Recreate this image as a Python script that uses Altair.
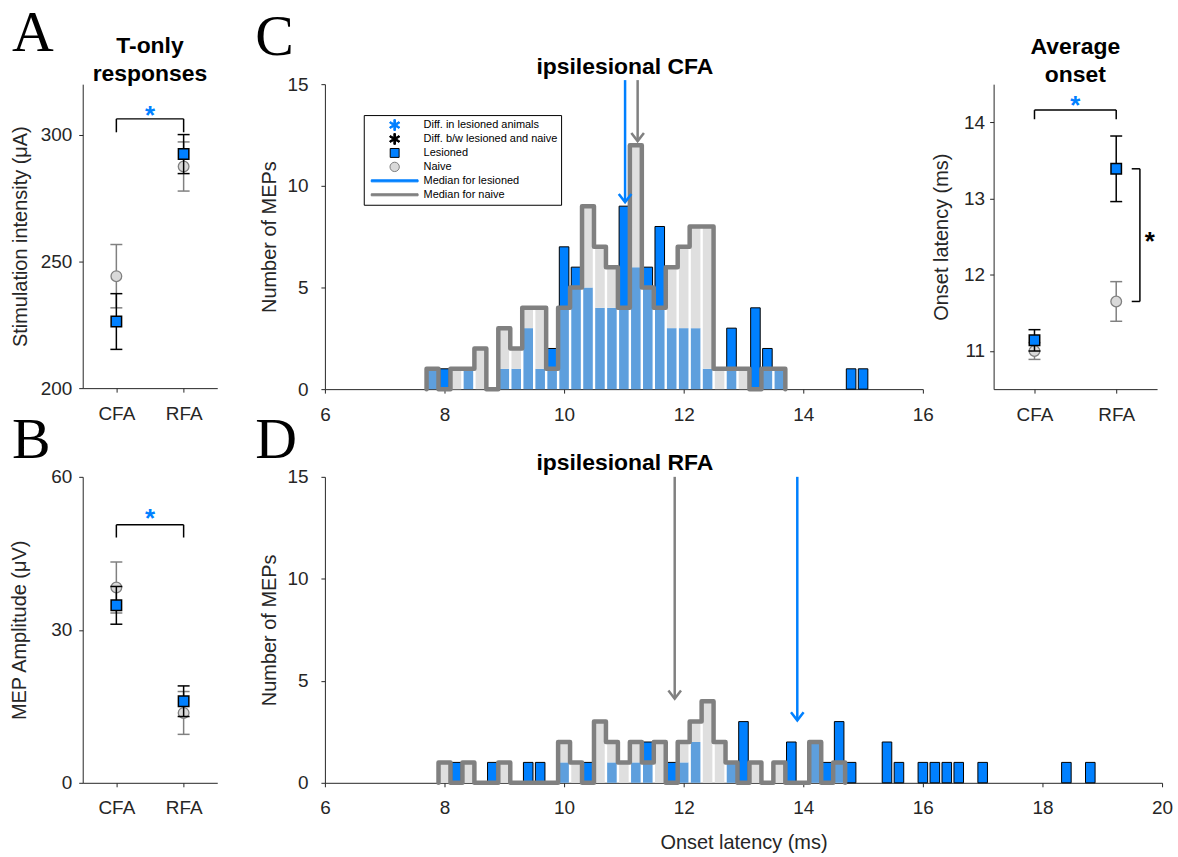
import math
import altair as alt
import pandas as pd

FONT = "Liberation Sans"
SERIF = "Liberation Serif"
BLUE = "#0080FF"
OVERLAP = "#5E9FDD"
LIGHT = "#DFDFDF"
GRAY = "#808080"
NAIVE_FILL = "#D9D9D9"
INK = "#262626"

sites = ["CFA", "RFA"]

# A: stimulation intensity of T-only responses (mean and error)
stim_les = [226.3, 292.4]
stim_les_err = [11.0, 7.7]
stim_nai = [244.2, 287.5]
stim_nai_err = [12.5, 9.7]

# B: MEP amplitude
amp_les = [34.8, 16.0]
amp_les_err = [3.7, 3.0]
amp_nai = [38.3, 13.7]
amp_nai_err = [5.0, 4.2]

# Average onset latency
onset_les = [11.14, 13.39]
onset_les_err = [0.14, 0.43]
onset_nai = [11.0, 11.65]
onset_nai_err = [0.11, 0.26]

# significance brackets: segments (x, x2, y, y2) and stars (x, y, colour)
stim_bracket = [(1, 2, 306.3, 306.3), (1, 1, 306.3, 301.0), (2, 2, 306.3, 301.0)]
stim_stars = [(1.5, 310.2, BLUE)]
amp_bracket = [(1, 2, 50.6, 50.6), (1, 1, 50.6, 48.1), (2, 2, 50.6, 48.1)]
amp_stars = [(1.5, 53.0, BLUE)]
onset_bracket = [(1, 2, 14.16, 14.16), (1, 1, 14.16, 14.04), (2, 2, 14.16, 14.04),
                 (2.29, 2.29, 13.39, 11.65), (2.19, 2.29, 13.39, 13.39), (2.19, 2.29, 11.65, 11.65)]
onset_stars = [(1.5, 14.3, BLUE), (2.41, 12.52, "black")]

# C: onset latency histogram, ipsilesional CFA (bin centres, counts)
cfa_bins = [7.8, 8.0, 8.2, 8.4, 8.6, 8.8, 9.0, 9.2, 9.4, 9.6, 9.8, 10.0, 10.2, 10.4, 10.6,
            10.8, 11.0, 11.2, 11.4, 11.6, 11.8, 12.0, 12.2, 12.4, 12.6, 12.8, 13.0, 13.2,
            13.4, 13.6, 13.8, 14.0, 14.2, 14.4, 14.6, 14.8, 15.0]
cfa_les = [1, 1, 0, 1, 0, 0, 1, 1, 3, 1, 2, 7, 6, 5, 4, 4, 9, 6, 6, 8, 3, 3, 3, 1, 0, 3, 0, 4,
           2, 1, 0, 0, 0, 0, 0, 1, 1]
cfa_nai = [1, 0, 1, 1, 2, 0, 3, 2, 4, 4, 1, 4, 5, 9, 7, 6, 4, 12, 5, 4, 6, 7, 8, 8, 1, 1, 1, 0,
           1, 1, 0, 0, 0, 0, 0, 0, 0]
cfa_median = {"les": 11.02, "nai": 11.23}
cfa_arrow_tip = {"les": 9.2, "nai": 12.2}
cfa_arrow_top = 15.2

# D: onset latency histogram, ipsilesional RFA
rfa_bins = [8.0, 8.2, 8.4, 8.6, 8.8, 9.0, 9.2, 9.4, 9.6, 9.8, 10.0, 10.2, 10.4, 10.6, 10.8,
            11.0, 11.2, 11.4, 11.6, 11.8, 12.0, 12.2, 12.4, 12.6, 12.8, 13.0, 13.2, 13.4,
            13.6, 13.8, 14.0, 14.2, 14.4, 14.6, 14.8, 15.0, 15.2, 15.4, 15.6, 15.8, 16.0,
            16.2, 16.4, 16.6, 16.8, 17.0, 17.2, 17.4, 17.6, 17.8, 18.0, 18.2, 18.4, 18.6, 18.8]
rfa_les = [0, 1, 0, 0, 1, 0, 0, 1, 1, 0, 1, 0, 1, 0, 1, 0, 1, 2, 0, 1, 1, 2, 0, 0, 1, 3, 0, 0,
           0, 2, 0, 2, 1, 3, 1, 0, 0, 2, 1, 0, 1, 1, 1, 1, 0, 1, 0, 0, 0, 0, 0, 0, 1, 0, 1]
rfa_nai = [1, 0, 1, 0, 0, 1, 0, 0, 0, 0, 2, 1, 0, 3, 2, 1, 2, 1, 2, 0, 2, 3, 4, 2, 1, 0, 1, 0,
           1, 0, 0, 2, 0, 1, 0, 0, 0, 0, 0, 0, 0, 0, 0, 0, 0, 0, 0, 0, 0, 0, 0, 0, 0, 0, 0]
rfa_median = {"les": 13.9, "nai": 11.85}
rfa_arrow_tip = {"les": 3.06, "nai": 4.12}
rfa_arrow_top = 15.0

legend_labels = ["Diff. in lesioned animals", "Diff. b/w lesioned and naive", "Lesioned",
                 "Naive", "Median for lesioned", "Median for naive"]


def asterisk_path(r, w):
    """Six-armed asterisk built from three rotated bars (unit symbol space)."""
    parts = []
    for k in range(3):
        a = math.pi / 2 + k * math.pi / 3
        ca, sa = math.cos(a), math.sin(a)
        px, py = -sa * w, ca * w
        pts = [(r * ca + px, r * sa + py), (-r * ca + px, -r * sa + py),
               (-r * ca - px, -r * sa - py), (r * ca - px, r * sa - py)]
        parts.append("M" + "L".join(f"{x:.3f},{y:.3f}" for x, y in pts) + "Z")
    return "".join(parts)


LINE_SHAPE = "M-1,-0.043H1V0.043H-1Z"
SQUARE_SHAPE = "M-0.19,-0.19H0.19V0.19H-0.19Z"
CIRCLE_SHAPE = "M-0.2,0A0.2,0.2,0,1,1,0.2,0A0.2,0.2,0,1,1,-0.2,0Z"
STAR_SHAPE = asterisk_path(0.23, 0.035)
legend_shapes = [STAR_SHAPE, STAR_SHAPE, SQUARE_SHAPE, CIRCLE_SHAPE, LINE_SHAPE, LINE_SHAPE]
legend_fills = [BLUE, "black", BLUE, NAIVE_FILL, BLUE, GRAY]
legend_strokes = [BLUE, "black", "black", GRAY, BLUE, GRAY]

label_expr = "[" + ",".join(f"'{s}'" for s in sites) + "][datum.value - 1]"
CHEVRON = "M-1,-1.3L0,0L1,-1.3"


def annotation(text, dx, dy, font=SERIF, size=58, weight="normal", align="left"):
    """Panel letters and panel headings, placed relative to the plot's top-left corner."""
    return alt.Chart(pd.DataFrame({"t": [text]})).mark_text(
        font=font, fontSize=size, fontWeight=weight, align=align, baseline="alphabetic",
        color="black"
    ).encode(text="t:N", x=alt.value(dx), y=alt.value(dy))


def heading(lines, cx, last_baseline, line_step=28.4, size=23):
    n = len(lines)
    return [annotation(t, cx, last_baseline - (n - 1 - i) * line_step, font=FONT, size=size,
                       weight="bold", align="center") for i, t in enumerate(lines)]


def site_panel(les, les_err, nai, nai_err, ydom, yvals, ytitle, bracket, stars,
               title_pad, label_pad=7):
    pos = [1, 2]
    nai_df = pd.DataFrame({"pos": pos, "m": nai,
                           "lo": [m - e for m, e in zip(nai, nai_err)],
                           "hi": [m + e for m, e in zip(nai, nai_err)]})
    les_df = pd.DataFrame({"pos": pos, "m": les,
                           "lo": [m - e for m, e in zip(les, les_err)],
                           "hi": [m + e for m, e in zip(les, les_err)]})
    xenc = alt.X("pos:Q", scale=alt.Scale(domain=[0.5, 2.5], nice=False, zero=False),
                 axis=alt.Axis(values=pos, labelExpr=label_expr, title=None))
    yscale = alt.Scale(domain=ydom, nice=False, zero=False)
    yaxis = alt.Axis(values=yvals, title=ytitle, titlePadding=title_pad, format="d",
                     labelPadding=label_pad)
    yenc = alt.Y("m:Q", scale=yscale, axis=yaxis)

    def errbar(df, color):
        base = alt.Chart(df)
        line = base.mark_rule(color=color, strokeWidth=1.5).encode(
            x=xenc, y=alt.Y("lo:Q", scale=yscale, axis=yaxis), y2="hi:Q")
        lo = base.mark_tick(orient="horizontal", size=12, thickness=1.5, color=color,
                            opacity=1).encode(x="pos:Q", y="lo:Q")
        hi = base.mark_tick(orient="horizontal", size=12, thickness=1.5, color=color,
                            opacity=1).encode(x="pos:Q", y="hi:Q")
        return [line, lo, hi]

    nai_pts = alt.Chart(nai_df).mark_point(
        shape="circle", filled=True, fill=NAIVE_FILL, stroke=GRAY, strokeWidth=1.3,
        size=115, opacity=1).encode(x=xenc, y=yenc)
    les_pts = alt.Chart(les_df).mark_point(
        shape="square", filled=True, fill=BLUE, stroke="black", strokeWidth=1.5,
        size=110, opacity=1).encode(x=xenc, y=yenc)

    br_df = pd.DataFrame(bracket, columns=["x", "x2", "y", "y2"])
    br = alt.Chart(br_df).mark_rule(color="black", strokeWidth=1.5).encode(
        x="x:Q", x2="x2:Q", y="y:Q", y2="y2:Q")
    st_df = pd.DataFrame(stars, columns=["x", "y", "c"])
    st = alt.Chart(st_df).mark_text(text="*", font=FONT, fontSize=26, fontWeight="bold",
                                    baseline="middle", dy=7).encode(
        x="x:Q", y="y:Q", color=alt.Color("c:N", scale=None))

    layers = errbar(nai_df, GRAY) + [nai_pts] + errbar(les_df, "black") + [les_pts, br, st]
    return layers


def hist_panel(bins, les, nai, xmax, xticks, median, tip, top, xtitle, with_legend=False):
    step = bins[1] - bins[0]
    half = step * 0.4
    both, les_only, nai_only = [], [], []
    for c, l, n in zip(bins, les, nai):
        lo, hi = c - half, c + half
        m = min(l, n)
        if m > 0:
            both.append({"a": lo, "b": hi, "y": 0, "y2": m})
        if l > n:
            les_only.append({"a": lo, "b": hi, "y": n, "y2": l})
        if n > l:
            nai_only.append({"a": lo, "b": hi, "y": l, "y2": n})

    xenc = alt.X("a:Q", scale=alt.Scale(domain=[6, xmax], nice=False, zero=False),
                 axis=alt.Axis(values=xticks, title=xtitle, titlePadding=15))
    yenc = alt.Y("y:Q", scale=alt.Scale(domain=[0, 15], nice=False),
                 axis=alt.Axis(values=[0, 5, 10, 15], title="Number of MEPs",
                               titlePadding=7, labelPadding=13))

    def bars(rows, **style):
        return alt.Chart(pd.DataFrame(rows)).mark_rect(**style).encode(
            x=xenc, x2="b:Q", y=yenc, y2="y2:Q")

    layers = [
        bars(both, fill=OVERLAP, strokeWidth=0),
        bars(nai_only, fill=LIGHT, strokeWidth=0),
        bars(les_only, fill=BLUE, stroke="black", strokeWidth=1),
    ]

    idx = [i for i, n in enumerate(nai) if n > 0]
    first, last = idx[0], idx[-1]
    pts = [(bins[first] - step / 2, 0)]
    pts += [(bins[i] - step / 2, nai[i]) for i in range(first, last + 1)]
    pts += [(bins[last] + step / 2, 0)]
    stair = pd.DataFrame({"a": [p[0] for p in pts], "y": [p[1] for p in pts],
                          "k": list(range(len(pts)))})
    layers.append(alt.Chart(stair).mark_line(
        interpolate="step-after", color=GRAY, strokeWidth=4.5, strokeJoin="round",
        strokeCap="round").encode(x=xenc, y=yenc, order="k:Q"))

    arr = pd.DataFrame({"a": [median["nai"], median["les"]], "top": [top, top],
                        "y": [tip["nai"], tip["les"]], "c": [GRAY, BLUE]})
    layers.append(alt.Chart(arr).mark_rule(strokeWidth=2.5).encode(
        x=xenc, y=alt.Y("top:Q", scale=alt.Scale(domain=[0, 15], nice=False)), y2="y:Q",
        color=alt.Color("c:N", scale=None)))
    layers.append(alt.Chart(arr).mark_point(
        shape=CHEVRON, filled=False, strokeWidth=2.5, size=160, opacity=1).encode(
        x=xenc, y=yenc, stroke=alt.Stroke("c:N", scale=None)))

    if with_legend:
        leg = alt.Legend(orient="none", legendX=39, legendY=31, title=None, padding=3,
                         symbolOffset=4, labelOffset=5, labelFontSize=11, labelFont=FONT,
                         labelColor="black", rowPadding=0, clipHeight=14,
                         symbolSize=2209, symbolStrokeWidth=1, strokeColor="black",
                         fillColor="white", labelLimit=400)
        leg_df = pd.DataFrame({"entry": legend_labels, "a": [0.0] * 6, "y": [0.0] * 6})
        layers.append(alt.Chart(leg_df).transform_filter("false").mark_point(
            filled=True, opacity=1).encode(
            x=xenc, y=yenc,
            shape=alt.Shape("entry:N", scale=alt.Scale(domain=legend_labels,
                                                       range=legend_shapes), legend=leg),
            fill=alt.Fill("entry:N", scale=alt.Scale(domain=legend_labels,
                                                     range=legend_fills), legend=leg),
            stroke=alt.Stroke("entry:N", scale=alt.Scale(domain=legend_labels,
                                                         range=legend_strokes), legend=leg),
        ))
    return layers


panel_a = alt.layer(
    *site_panel(stim_les, stim_les_err, stim_nai, stim_nai_err, [200, 320], [200, 250, 300],
                "Stimulation intensity (μA)", stim_bracket, stim_stars, 10),
    *heading(["T-only", "responses"], 67.5, -3.3),
    annotation("A", -71, -33),
).properties(width=135, height=305)

panel_b = alt.layer(
    *site_panel(amp_les, amp_les_err, amp_nai, amp_nai_err, [0, 60], [0, 30, 60],
                "MEP Amplitude (μV)", amp_bracket, amp_stars, 21),
    annotation("B", -71, -19),
).properties(width=135, height=307)

panel_avg = alt.layer(
    *site_panel(onset_les, onset_les_err, onset_nai, onset_nai_err, [10.5, 14.5],
                [11, 12, 13, 14], "Onset latency (ms)", onset_bracket, onset_stars,
                12, label_pad=5),
    *heading(["Average", "onset"], 82, -2.3),
).properties(width=164, height=306)

panel_c = alt.layer(
    *hist_panel(cfa_bins, cfa_les, cfa_nai, 16, [6, 8, 10, 12, 14, 16], cfa_median,
                cfa_arrow_tip, cfa_arrow_top, None, with_legend=True),
    *heading(["ipsilesional CFA"], 301, -10),
    annotation("C", -70, -29),
).properties(width=600, height=306)

panel_d = alt.layer(
    *hist_panel(rfa_bins, rfa_les, rfa_nai, 20, [6, 8, 10, 12, 14, 16, 18, 20], rfa_median,
                rfa_arrow_tip, rfa_arrow_top, "Onset latency (ms)"),
    *heading(["ipsilesional RFA"], 301, -7),
    annotation("D", -70, -19),
).properties(width=840, height=307)

top_right = alt.hconcat(panel_c, panel_avg, spacing=71, bounds="flush").resolve_scale(
    fill="independent", stroke="independent", shape="independent")
row1 = alt.hconcat(panel_a, top_right, spacing=108, bounds="flush")
row2 = alt.hconcat(panel_b, panel_d, spacing=108, bounds="flush")

chart = alt.vconcat(row1, row2, spacing=-12, bounds="full").properties(
    padding={"left": 9, "top": 4, "right": 5, "bottom": 5}
).configure_view(stroke=None).configure_axis(
    grid=False, domainColor=INK, tickColor=INK, domainWidth=1, tickWidth=1, tickSize=4,
    labelFont=FONT, labelFontSize=19, labelColor=INK, labelFlush=False, labelOverlap=False,
    titleFont=FONT, titleFontSize=20, titleFontWeight="normal", titleColor=INK,
).configure_axisX(labelPadding=12).configure_axisY(labelPadding=7)

chart.save("out.html", embed_options={"renderer": "svg", "actions": False})
